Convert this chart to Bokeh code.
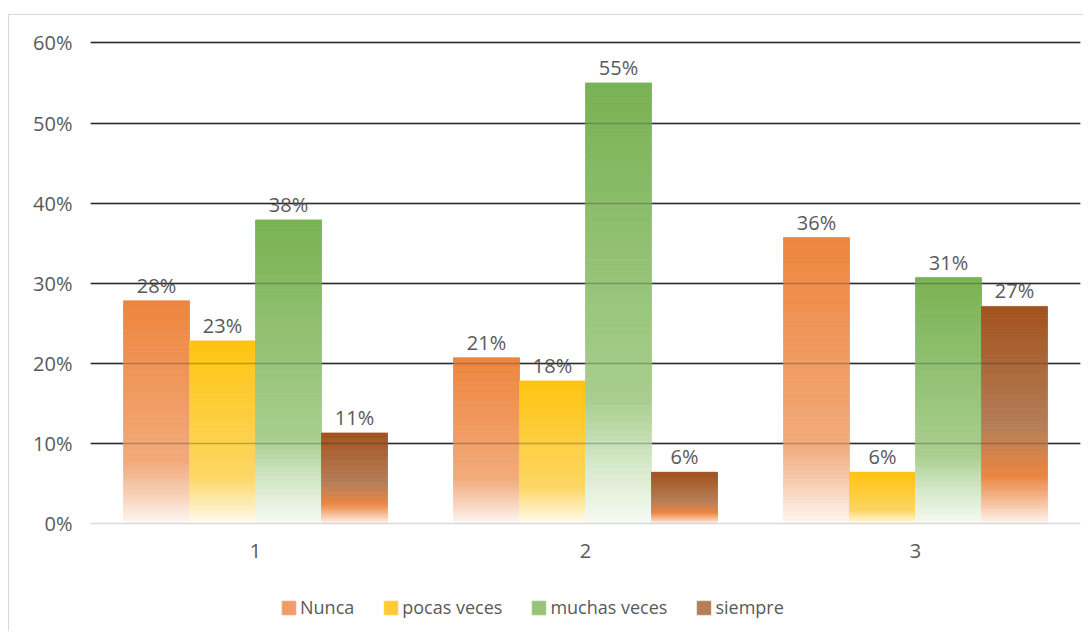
import numpy as np
from bokeh.plotting import figure
from bokeh.models import Range1d, FixedTicker, Legend, LegendItem, ColumnDataSource, Grid
from bokeh.core.properties import value
from bokeh.embed import file_html
from bokeh.resources import INLINE

# ---------------- data ----------------
groups = [1, 2, 3]
group_labels = ["1", "2", "3"]
series_names = ["Nunca", "pocas veces", "muchas veces", "siempre"]
nunca = [0.278, 0.207, 0.357]
pocas_veces = [0.228, 0.178, 0.064]
muchas_veces = [0.379, 0.550, 0.307]
siempre = [0.113, 0.064, 0.271]
labels_nunca = ["28%", "21%", "36%"]
labels_pocas = ["23%", "18%", "6%"]
labels_muchas = ["38%", "55%", "31%"]
labels_siempre = ["11%", "6%", "27%"]
y_ticks = [0.0, 0.1, 0.2, 0.3, 0.4, 0.5, 0.6]
y_tick_labels = ["0%", "10%", "20%", "30%", "40%", "50%", "60%"]

series_values = [nunca, pocas_veces, muchas_veces, siempre]
series_labels = [labels_nunca, labels_pocas, labels_muchas, labels_siempre]

# gradient stops (fraction from top of bar, color)
gradients = [
    [(0.0, "#ED7D31"), (0.72, "#F1A572"), (0.86, "#F6CBAE"), (1.0, "#FEF8F4")],
    [(0.0, "#FFC000"), (0.74, "#FDD45A"), (0.88, "#FEE9A8"), (1.0, "#FFFCF2")],
    [(0.0, "#70AD47"), (0.72, "#A3CB88"), (0.86, "#D2E6C5"), (1.0, "#F6FAF3")],
    [(0.0, "#9C470E"), (0.55, "#B0764E"), (0.78, "#EA7E36"), (0.88, "#F4B185"), (1.0, "#FFF6F0")],
]
legend_fracs = [0.45, 0.3, 0.45, 0.55]
offsets = [-0.3, -0.1, 0.1, 0.3]
bar_w = 0.2
N = 70

FONT = "Open Sans"
TXT = "#595959"


def hex2rgb(h):
    h = h.lstrip("#")
    return np.array([int(h[i:i + 2], 16) for i in (0, 2, 4)], dtype=float)


def grad_color(stops, t, alpha=0.94):
    for (t0, c0), (t1, c1) in zip(stops[:-1], stops[1:]):
        if t0 <= t <= t1:
            f = (t - t0) / (t1 - t0) if t1 > t0 else 0
            c = hex2rgb(c0) * (1 - f) + hex2rgb(c1) * f
            c = c * alpha + 255 * (1 - alpha)
            return "#%02x%02x%02x" % tuple(int(round(v)) for v in c)
    return stops[-1][1]


p = figure(width=1075, height=617, output_backend="svg", toolbar_location=None,
           x_range=Range1d(0.5, 3.5), y_range=Range1d(-0.136, 0.603),
           min_border_left=81, min_border_right=4, min_border_top=25, min_border_bottom=0)
p.margin = (14, 0, 0, 8)
p.styles = {"border-left": "1px solid #D9D9D9", "border-top": "1px solid #D9D9D9"}
p.outline_line_color = None
p.background_fill_color = "white"
p.border_fill_color = "white"

p.xgrid.grid_line_color = None
p.ygrid.grid_line_color = "#2A2A2A"
p.ygrid.grid_line_width = 1.6
p.ygrid.ticker = FixedTicker(ticks=y_ticks[1:])

over_grid = Grid(dimension=1, ticker=FixedTicker(ticks=y_ticks[1:]), level="annotation",
                 grid_line_color="#303030", grid_line_width=1.6, grid_line_alpha=0.3)
p.add_layout(over_grid)

p.yaxis.ticker = FixedTicker(ticks=y_ticks)
p.yaxis.major_label_overrides = {t: l for t, l in zip(y_ticks, y_tick_labels)}
p.yaxis.axis_line_color = None
p.yaxis.major_tick_line_color = None
p.yaxis.minor_tick_line_color = None
p.yaxis.major_label_standoff = 12
p.yaxis.major_label_text_font = FONT
p.yaxis.major_label_text_font_size = "20px"
p.yaxis.major_label_text_color = TXT

p.xaxis.fixed_location = 0
p.xaxis.ticker = FixedTicker(ticks=groups)
p.xaxis.major_label_overrides = {g: l for g, l in zip(groups, group_labels)}
p.xaxis.axis_line_color = "#D9D9D9"
p.xaxis.axis_line_width = 1.5
p.xaxis.major_tick_line_color = None
p.xaxis.minor_tick_line_color = None
p.xaxis.major_label_standoff = 14
p.xaxis.major_label_text_font = FONT
p.xaxis.major_label_text_font_size = "20px"
p.xaxis.major_label_text_color = TXT

items = []
for s, (vals, labs, stops, off) in enumerate(zip(series_values, series_labels, gradients, offsets)):
    left, right, bottom, top, color = [], [], [], [], []
    for g, v in zip(groups, vals):
        for i in range(N):
            t = 1 - (i + 0.5) / N
            left.append(g + off - bar_w / 2)
            right.append(g + off + bar_w / 2)
            bottom.append(v * i / N)
            top.append(v * (i + 1) / N)
            color.append(grad_color(stops, t))
    src = ColumnDataSource(dict(left=left, right=right, bottom=bottom, top=top, color=color))
    r = p.quad(left="left", right="right", bottom="bottom", top="top", fill_color="color",
               line_color="color", line_width=0.8, source=src)
    idx = N - 1 - int(legend_fracs[s] * N)
    items.append(LegendItem(label=series_names[s], renderers=[r], index=idx))

    p.text(x=[g + off for g in groups], y=vals, text=labs, text_align="center",
           text_baseline="bottom", y_offset=-2, text_font=value(FONT),
           text_font_size="20px", text_color=TXT)

legend = Legend(items=items, orientation="horizontal", location=(190, 13),
                label_text_font=FONT, label_text_font_size="18px", label_text_color=TXT,
                glyph_width=17, glyph_height=17, label_standoff=3, spacing=28,
                border_line_color=None, background_fill_alpha=0, margin=0, padding=4)
p.add_layout(legend, "center")

open("out.html", "w").write(file_html(p, INLINE))
